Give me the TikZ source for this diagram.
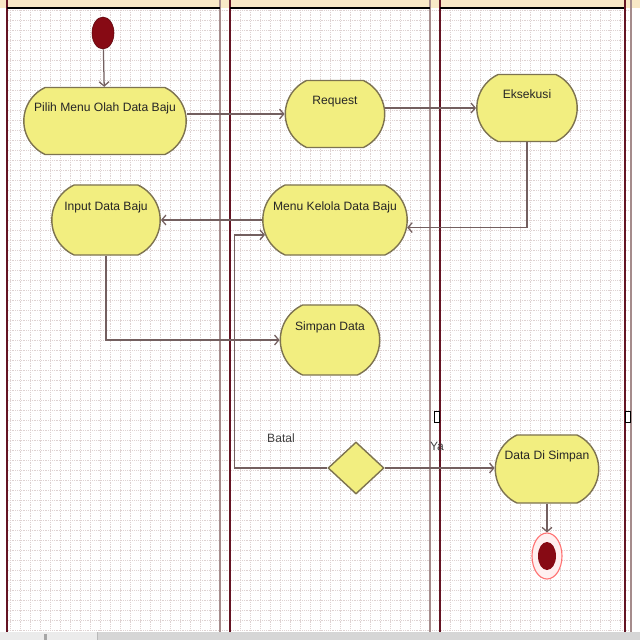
\documentclass[tikz,border=0pt]{standalone}
\usepackage{fontspec}
\setmainfont{Liberation Sans}
\usetikzlibrary{shapes.geometric,shapes.misc,arrows.meta}
\definecolor{kuning}{RGB}{242,238,128}
\definecolor{tepi}{RGB}{125,115,80}
\definecolor{merah}{RGB}{135,10,20}
\definecolor{jalur}{RGB}{100,20,35}
\definecolor{jalurabu}{RGB}{165,140,140}
\definecolor{kisi}{RGB}{222,210,210}
\definecolor{konektor}{RGB}{115,95,95}
\definecolor{kepala}{RGB}{248,232,198}
\begin{document}
\begin{tikzpicture}[x=0.025cm,y=-0.025cm,
	aktivitas/.style={draw=tepi,fill=kuning,line width=1pt,shape=rounded rectangle,rounded rectangle arc length=130,inner sep=2pt,text height=6pt,text depth=19pt,font=\fontsize{8.6}{10}\selectfont,text=black!85},
	panah/.style={draw=konektor,line width=0.9pt,-{Straight Barb[length=3pt,width=7pt]}},
	tulisan/.style={font=\fontsize{8.6}{10}\selectfont,text=black!75,inner sep=1pt}]
	\useasboundingbox (0,0) rectangle (640,640);
	\fill[white] (0,0) rectangle (640,640);
	\fill[kepala] (0,0) rectangle (640,8);
	\foreach \x in {10,20,...,620}{
		\draw[kisi,densely dotted,line width=0.3pt] (\x,10) -- (\x,630);
	};
	\foreach \y in {10,20,...,630}{
		\draw[kisi,densely dotted,line width=0.3pt] (8,\y) -- (630,\y);
	};
	\foreach \x in {220,430,631}{
		\draw[jalurabu,line width=2pt] (\x,0) -- (\x,632);
	};
	\foreach \a/\b in {7/220,230/430,440/625}{
		\draw[jalur,line width=1.4pt] (\a,0) -- (\a,632);
		\draw[black,line width=1.6pt] (\a,8) -- (\b,8);
	};
	\draw[jalur,line width=1.4pt] (625,0) -- (625,632);
	\fill[gray!32] (0,632) rectangle (640,640);
	\fill[gray!16] (0,632) rectangle (97,640);
	\draw[gray!55] (97,632) -- (97,640);
	\fill[gray!70] (44,634) rectangle (47,640);
	\node[draw=merah!70!black,fill=merah,shape=ellipse,minimum width=0.55cm,minimum height=0.8cm,inner sep=0pt,name=mulai] at (103,33){};
	\node[aktivitas,minimum width=4.2cm,minimum height=1.675cm,name=pilih] at (105,121){Pilih Menu Olah Data Baju};
	\node[aktivitas,minimum width=2.625cm,minimum height=1.675cm,name=request] at (335,114){Request};
	\node[aktivitas,minimum width=2.65cm,minimum height=1.675cm,name=eksekusi] at (527,108){Eksekusi};
	\node[aktivitas,minimum width=2.85cm,minimum height=1.75cm,name=input] at (106,220){Input Data Baju};
	\node[aktivitas,minimum width=3.75cm,minimum height=1.75cm,name=kelola] at (335,220){Menu Kelola Data Baju};
	\node[aktivitas,minimum width=2.625cm,minimum height=1.75cm,name=simpan] at (330,340){Simpan Data};
	\node[draw=tepi,fill=kuning,line width=1pt,shape=diamond,minimum width=1.4cm,minimum height=1.3cm,inner sep=0pt,name=cabang] at (356,468){};
	\node[aktivitas,minimum width=2.725cm,minimum height=1.7cm,name=disimpan] at (547,469){Data Di Simpan};
	\node[draw=red!55!white,fill=red!6,line width=0.8pt,shape=ellipse,minimum width=0.75cm,minimum height=1.15cm,inner sep=0pt,name=akhir] at (547,556){};
	\node[fill=merah,shape=ellipse,minimum width=0.45cm,minimum height=0.7cm,inner sep=0pt,name=akhirdalam] at (akhir){};
	\node[tulisan,name=batal] at (281,438){Batal};
	\node[tulisan,name=ya] at (437,446){Ya};
	\foreach \x in {437,628}{
		\node[draw=black,fill=white,line width=0.6pt,minimum width=0.12cm,minimum height=0.26cm,inner sep=0pt,name=pegangan\x] at (\x,417){};
	};
	\draw[panah] (mulai) -- (pilih);
	\draw[panah] (request.west -| pilih.east) -- (request.west);
	\draw[panah] (eksekusi.west -| request.east) -- (eksekusi.west);
	\draw[panah] (eksekusi.south) |- (kelola.-6);
	\draw[panah] (kelola.west) -- (input.east);
	\draw[panah] (input.south) |- (simpan.west);
	\draw[panah] (cabang.west) -- ++(-93,0) |- (kelola.-168);
	\draw[panah] (cabang.east) -- (cabang.east -| disimpan.west);
	\draw[panah] (disimpan.south) -- (akhir.north);
\end{tikzpicture}
\end{document}
